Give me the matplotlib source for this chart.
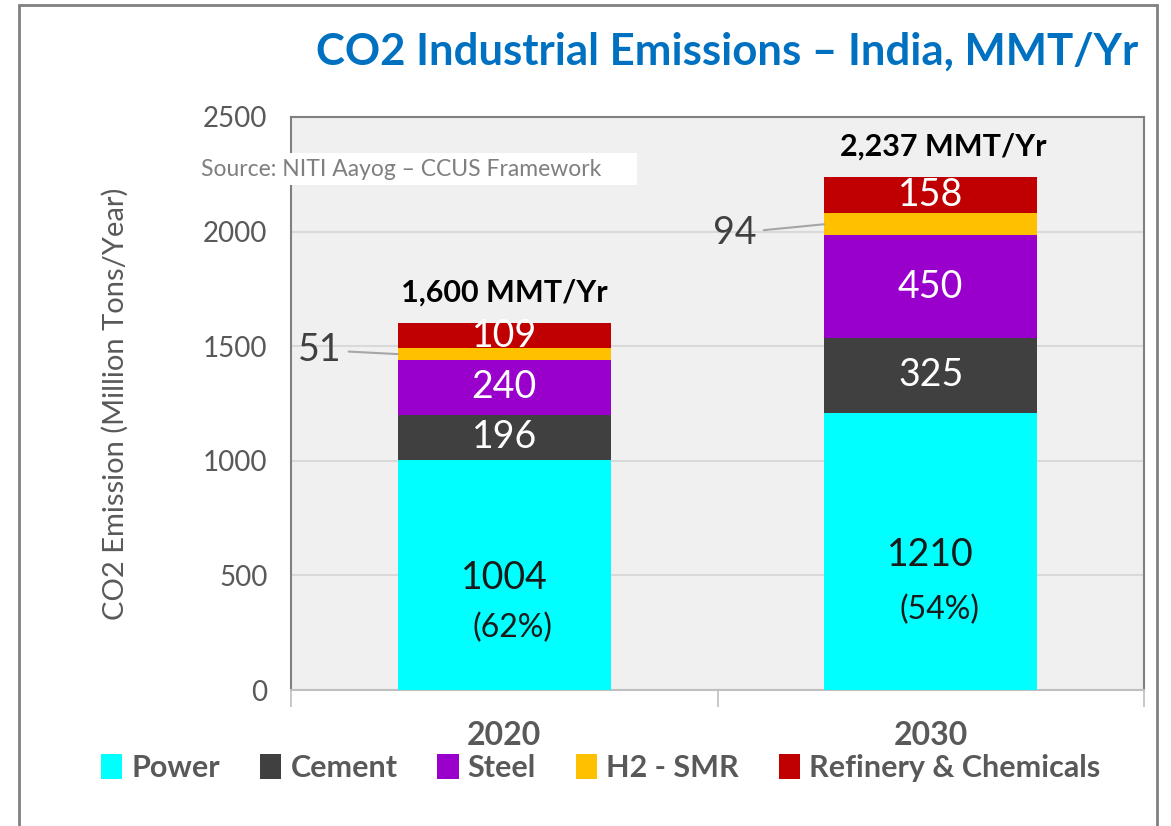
import matplotlib
matplotlib.use("Agg")
import matplotlib.pyplot as plt
from matplotlib.patches import Rectangle
import numpy as np

plt.rcParams['font.family'] = ['Lato', 'DejaVu Sans']

years = ['2020', '2030']
sectors = ['Power', 'Cement', 'Steel', 'H2 - SMR', 'Refinery & Chemicals']
power = [1004, 1210]
cement = [196, 325]
steel = [240, 450]
h2 = [51, 94]
refinery = [109, 158]
totals = ['1,600 MMT/Yr', '2,237 MMT/Yr']
power_share = ['(62%)', '(54%)']
colors = ['#00FFFF', '#404040', '#9900CC', '#FFC000', '#C00000']

fig = plt.figure(figsize=(11.71, 8.26), dpi=100)
ax = fig.add_axes([0.2485, 0.1646, 0.7285, 0.6938])
ax.set_facecolor('#F0F0F0')

x = np.arange(len(years))
series = [power, cement, steel, h2, refinery]
bottom = np.zeros(len(years))
for vals, col, name in zip(series, colors, sectors):
    ax.bar(x, vals, 0.5, bottom=bottom, color=col, label=name, zorder=3)
    bottom = bottom + np.array(vals)

ax.set_xlim(-0.5, 1.5)
ax.set_ylim(0, 2500)
ax.set_yticks(np.arange(0, 2501, 500))
ax.grid(axis='y', color='#D9D9D9', linewidth=1.5, zorder=0)
ax.tick_params(axis='y', length=0, labelsize=20, labelcolor='#595959', pad=17)

# category labels centered, boundary ticks
ax.set_xticks(x)
ax.set_xticklabels(years, fontsize=23, fontweight='bold', color='#595959')
ax.tick_params(axis='x', which='major', length=0, pad=22)
ax.set_xticks([-0.5, 0.5, 1.5], minor=True)
ax.tick_params(axis='x', which='minor', length=12, color='#BFBFBF', width=1.2)

for s in ['left', 'top', 'right']:
    ax.spines[s].set_color('#808080')
    ax.spines[s].set_linewidth(1.5)
ax.spines['bottom'].set_color('#BFBFBF')
ax.spines['bottom'].set_linewidth(1.5)

ax.set_ylabel('CO2 Emission (Million Tons/Year)', fontsize=21, color='#595959')
ax.yaxis.set_label_coords(-0.19, 0.5)

# segment labels
for i in range(len(years)):
    base = power[i]
    ax.text(x[i], power[i] * 0.487, str(power[i]), ha='center', va='center',
            fontsize=27, color='#1a1a1a', zorder=4)
    ax.text(x[i] + 0.02, power[i] * 0.27 if i == 0 else power[i] * 0.288,
            power_share[i], ha='center', va='center', fontsize=23,
            color='#1a1a1a', zorder=4)
    for vals in [cement, steel]:
        ax.text(x[i], base + vals[i] / 2, str(vals[i]), ha='center', va='center',
                fontsize=27, color='white', zorder=4)
        base += vals[i]
    h2_mid = base + h2[i] / 2
    base += h2[i]
    ax.text(x[i], base + refinery[i] / 2, str(refinery[i]), ha='center',
            va='center', fontsize=27, color='white', zorder=4)
    # leader label for H2
    tx = -0.432 if i == 0 else 0.541
    ty = 1483 if i == 0 else 1994
    ax.annotate(str(h2[i]), xy=(x[i] - 0.25, h2_mid), xytext=(tx, ty),
                ha='center', va='center', fontsize=27, color='#404040',
                arrowprops=dict(arrowstyle='-', color='#A6A6A6', lw=1.5,
                                shrinkA=3, shrinkB=0), zorder=4)
    # total label
    ax.text(x[i] + (0.0 if i == 0 else 0.03), bottom[i] + 135, totals[i],
            ha='center', va='center', fontsize=22, fontweight='bold',
            color='black', zorder=4)

# source note on a white box that overlaps the axis edge
fig.patches.append(Rectangle((195 / 1171, 1 - 185 / 826), 442 / 1171, 32 / 826,
                             transform=fig.transFigure, facecolor='white',
                             edgecolor='none', zorder=5))
fig.text(0.1716, 1 - 169 / 826, 'Source: NITI Aayog \u2013 CCUS Framework', fontsize=16.5,
         color='#7F7F7F', ha='left', va='center', zorder=6)

fig.text(0.972, 0.937, 'CO2 Industrial Emissions \u2013 India, MMT/Yr',
         fontsize=31.5, fontweight='bold', color='#0070C0', ha='right', va='center')

leg = fig.legend(loc='center', bbox_to_anchor=(0.513, 0.07), ncol=5, frameon=False,
                 handlelength=0.7, handleheight=0.9, handletextpad=0.3,
                 columnspacing=1.3, prop={'size': 22, 'weight': 'bold'})
for t in leg.get_texts():
    t.set_color('#595959')

fig.patches.append(Rectangle((0.0165, -0.02), 0.9715, 1.014, transform=fig.transFigure,
                             fill=False, edgecolor='#808080', linewidth=2))

fig.savefig('out.png', dpi=100)
